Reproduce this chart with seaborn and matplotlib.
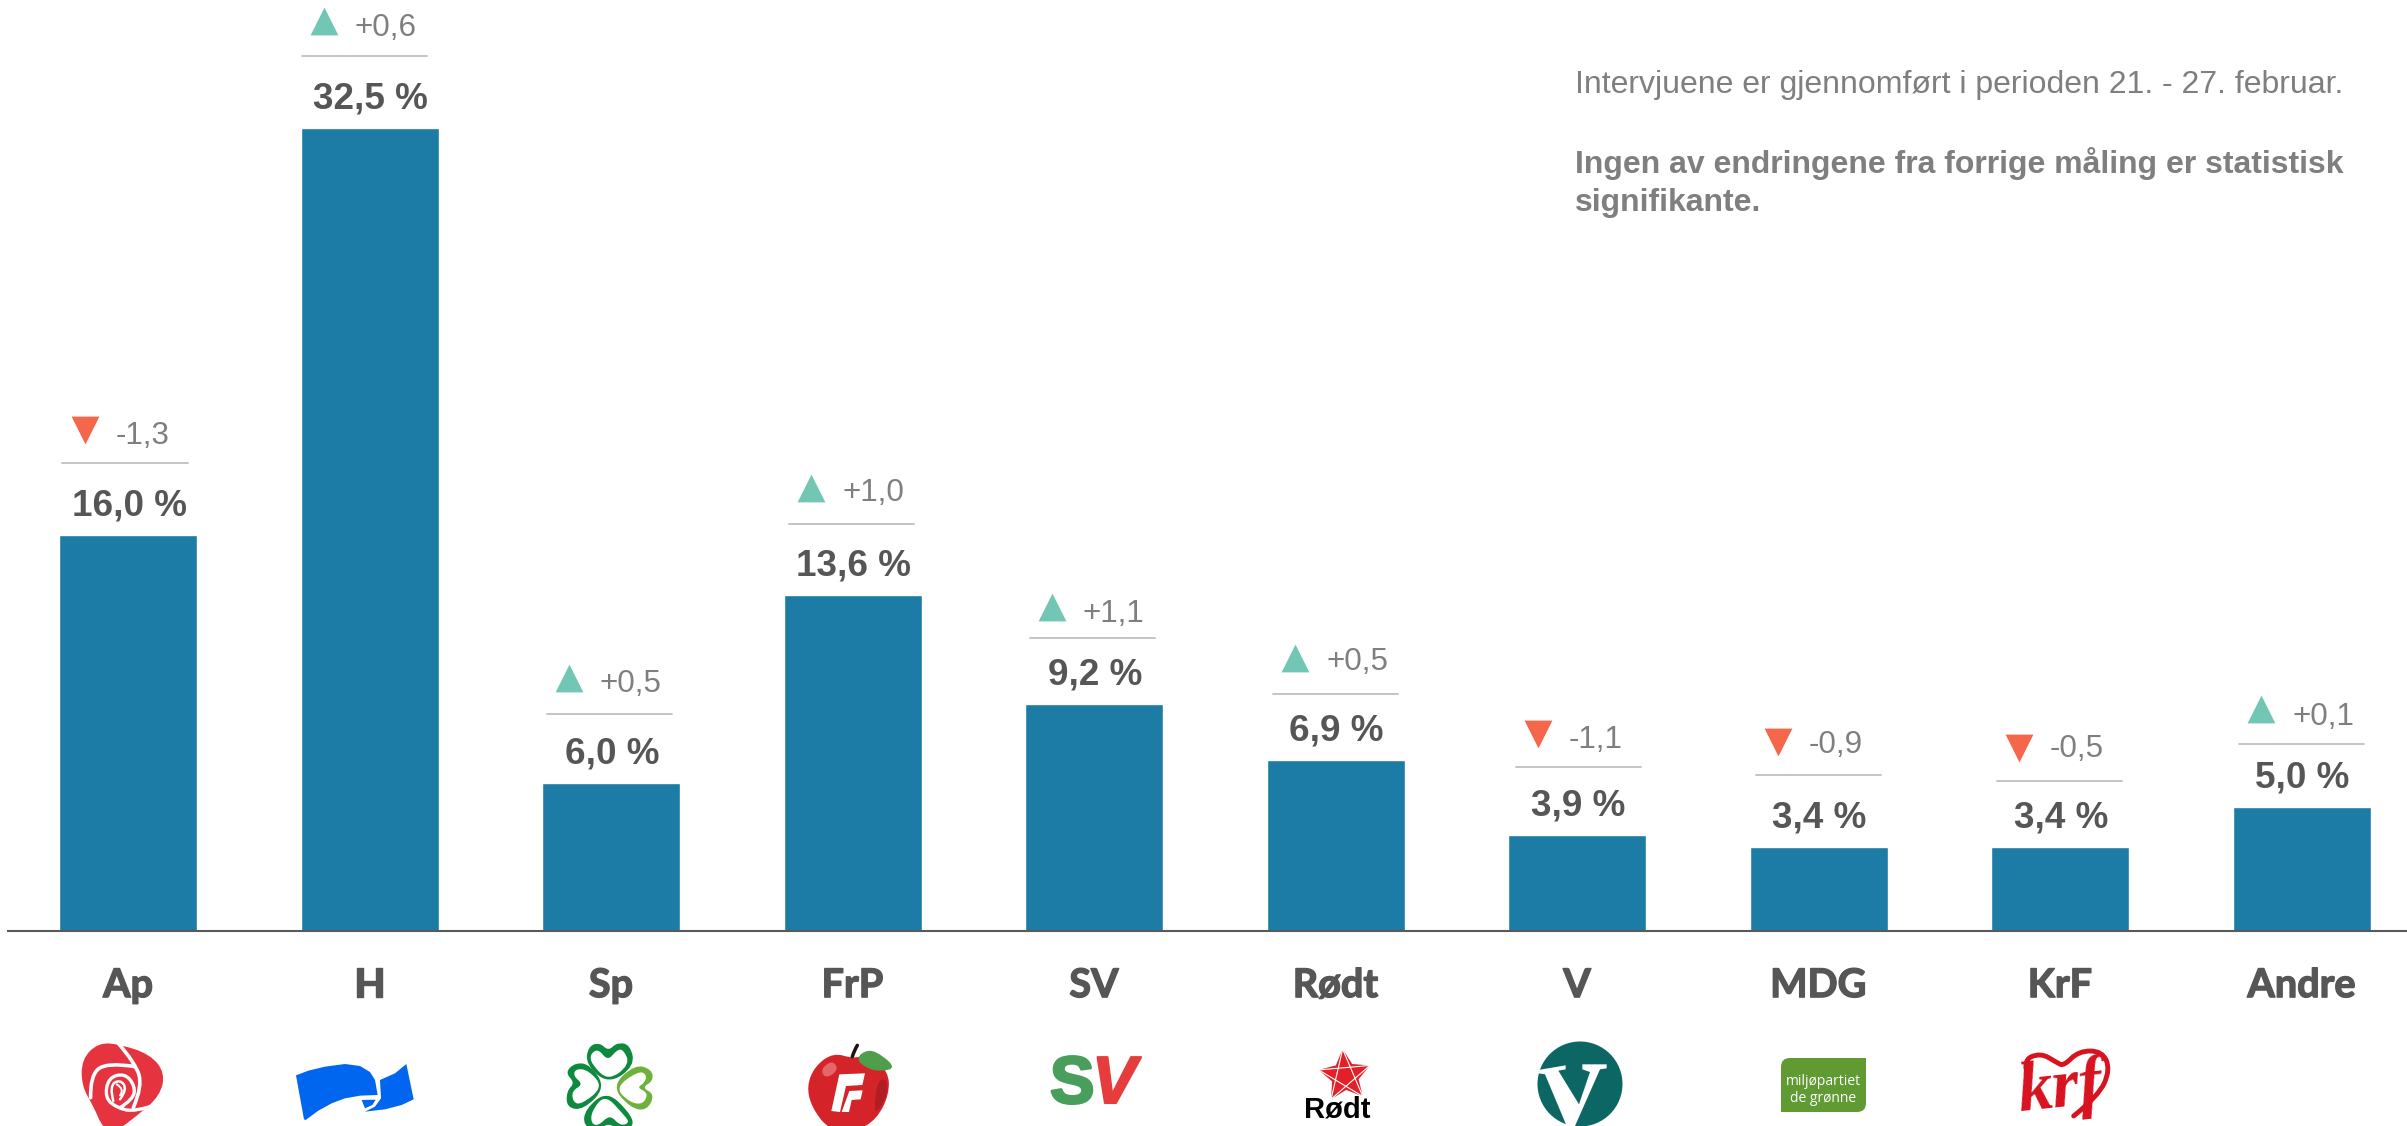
#!/bin/python3

import matplotlib
matplotlib.use('Agg')
import matplotlib.pyplot as plt
import matplotlib.patheffects as pe
from matplotlib.path import Path
from matplotlib.patches import PathPatch, Circle, FancyBboxPatch
import numpy as np
import seaborn as sns

parties = ['Ap', 'H', 'Sp', 'FrP', 'SV', 'Rødt', 'V', 'MDG', 'KrF', 'Andre']
values = [16.0, 32.5, 6.0, 13.6, 9.2, 6.9, 3.9, 3.4, 3.4, 5.0]
changes = [-1.3, 0.6, 0.5, 1.0, 1.1, 0.5, -1.1, -0.9, -0.5, 0.1]

# how far the little rule sits above each bar, and its sideways shift (px)
rule_lift = [72, 72, 69, 71, 66, 66, 68, 72, 66, 63]
rule_shift = [-3, -5, -2, -1, -2, 0, 1, 0, -1, 0]
# the change labels and arrows do not sit quite evenly over the rule (px, up)
text_nudge = [-1, 0, 2, 3, -4, 4, -1, 2, 4, -1]
tri_nudge = [1, 0, 1, 1, -4, 1, 1, 1, 1, 0]

W, H = 2407, 1126
BASE = 931
PX_UNIT = 24.72
STEP = 241.5
FIRST = 128
LEFT = 8

BLUE = '#1c7ca5'
DARK = '#565656'
GREY = '#7f7f7f'
UP = '#72c6b4'
DOWN = '#f4674a'


def fmt(v, sign=False):
    s = f'{v:+.1f}' if sign else f'{v:.1f}'
    return s.replace('.', ',')


sns.set_theme(style='white')
plt.rcParams['font.family'] = ['Liberation Sans', 'DejaVu Sans']

fig = plt.figure(figsize=(W / 100, H / 100), dpi=100)
ax = fig.add_axes([LEFT / W, (H - BASE) / H, (W - LEFT) / W, BASE / H])

sns.barplot(x=parties, y=values, color=BLUE, saturation=1, width=138 / STEP, ax=ax)
ax.set_xlim(-(FIRST - LEFT) / STEP, (W - FIRST) / STEP)
ax.set_ylim(0, BASE / PX_UNIT)
ax.set_yticks([])
ax.patch.set_alpha(0)
sns.despine(ax=ax, left=True)
ax.spines['bottom'].set_color('#595959')
ax.spines['bottom'].set_linewidth(1.5)
ax.tick_params(axis='x', length=0, pad=26)
for lab in ax.get_xticklabels():
    lab.set_fontfamily('Lato')
    lab.set_fontweight('bold')
    lab.set_fontsize(28.5)
    lab.set_color(DARK)
    lab.set_path_effects([pe.withStroke(linewidth=1.0, foreground=DARK)])

for i, (v, d) in enumerate(zip(values, changes)):
    ax.annotate(fmt(v) + ' %', (i, v), xytext=(1, 29), textcoords='offset pixels',
                ha='center', va='center', fontsize=26.6, fontweight='bold', color=DARK)
    mid = i + rule_shift[i] / STEP
    rule = v + rule_lift[i] / PX_UNIT
    ax.plot([mid - 62.5 / STEP, mid + 62.5 / STEP], [rule, rule], color='#bfbfbf', lw=1.3)
    tri = -40.5 / STEP + mid
    if d > 0:
        ax.scatter([tri], [rule + (35 + tri_nudge[i]) / PX_UNIT], marker='^', s=400, color=UP, linewidths=0)
    else:
        ax.scatter([tri], [rule + (32 + tri_nudge[i]) / PX_UNIT], marker='v', s=400, color=DOWN, linewidths=0)
    ax.annotate(fmt(d, sign=True), (mid, rule), xytext=(-9.5, 28 + text_nudge[i]), textcoords='offset pixels',
                ha='left', va='center', fontsize=22.6, color=GREY)

# overlay in picture pixels, for the note and the party logos
lg = fig.add_axes([0, 0, 1, 1])
lg.set_xlim(0, W)
lg.set_ylim(H, 0)
lg.axis('off')
lg.patch.set_alpha(0)

lg.text(1575, 85, 'Intervjuene er gjennomført i perioden 21. - 27. februar.',
        fontsize=23, color=GREY, va='center')
lg.text(1575, 163, 'Ingen av endringene fra forrige måling er statistisk',
        fontsize=23, color=GREY, va='center', fontweight='bold')
lg.text(1575, 203, 'signifikante.', fontsize=23, color=GREY, va='center', fontweight='bold')


def place(pts, org):
    pts = np.array(pts, dtype=float)
    return pts / 3 + np.array(org)


def blob(pts, org, color, z=3):
    p = place(pts, org)
    n = len(p)
    mids = (p + np.roll(p, -1, axis=0)) / 2
    verts = [mids[-1]]
    codes = [Path.MOVETO]
    for k in range(n):
        verts += [p[k], mids[k]]
        codes += [Path.CURVE3, Path.CURVE3]
    lg.add_patch(PathPatch(Path(verts, codes), fc=color, ec='none', zorder=z, clip_on=False))


def poly(pts, org, color, z=3):
    lg.fill(*place(pts, org).T, color=color, lw=0, zorder=z, clip_on=False)


def curve(pts, org, color, lw, z=4):
    p = place(pts, org)
    verts = [p[0]]
    codes = [Path.MOVETO]
    for k in range(1, len(p) - 1):
        end = p[k + 1] if k == len(p) - 2 else (p[k] + p[k + 1]) / 2
        verts += [p[k], end]
        codes += [Path.CURVE3, Path.CURVE3]
    lg.add_patch(PathPatch(Path(verts, codes), fc='none', ec=color, lw=lw, zorder=z,
                           capstyle='round', clip_on=False))


# Ap
o = (70, 1036)
blob([(85, 20), (150, 25), (240, 55), (285, 110), (270, 180), (200, 240), (140, 285), (100, 280),
      (70, 210), (35, 150), (35, 70)], o, '#e5333f')
curve([(145, 22), (195, 80), (218, 150), (190, 215)], o, 'white', 2.6)
curve([(62, 185), (60, 120), (110, 78), (195, 92)], o, 'white', 2.6)
curve([(262, 205), (195, 228), (140, 215), (105, 185), (115, 125), (165, 112), (195, 150), (190, 190), (150, 215)],
      o, 'white', 2.4)
curve([(130, 195), (118, 150), (150, 130), (172, 160), (150, 190)], o, 'white', 1.8)
curve([(140, 145), (165, 160), (150, 178)], o, 'white', 1.4)

# H
o = (285, 1050)
poly([(33, 76), (70, 62), (120, 50), (180, 42), (225, 48), (255, 66), (270, 90), (278, 135), (225, 137), (180, 145), (140, 160),
      (100, 182), (62, 210), (57, 208)], o, '#0066f0')
poly([(285, 90), (330, 70), (364, 42), (386, 148), (350, 165), (300, 178), (240, 185), (270, 170), (288, 145)],
     o, '#0066f0')
poly([(230, 150), (272, 149), (262, 165), (240, 175)], o, '#0066f0')

# Sp
o = (555, 1036)
G1 = '#0e8a3e'
G2 = '#6eb23c'
blob([(160, 145), (240, 90), (225, 25), (185, 20), (160, 45), (135, 20), (100, 30), (92, 85)], o, G1)
blob([(160, 135), (225, 85), (205, 40), (185, 42), (158, 75), (130, 38), (105, 55), (110, 85)], o, 'white', z=4)
blob([(152, 155), (105, 85), (60, 80), (30, 110), (60, 140), (35, 165), (35, 215), (85, 222)], o, G1, z=5)
blob([(145, 153), (100, 102), (62, 98), (55, 120), (85, 145), (50, 165), (55, 200), (80, 205)], o, 'white', z=6)
blob([(170, 150), (240, 85), (290, 100), (295, 135), (260, 155), (300, 175), (275, 225), (225, 215)], o, G2, z=5)
blob([(180, 155), (250, 105), (275, 115), (270, 140), (245, 155), (280, 170), (265, 205), (225, 200)], o, 'white', z=6)
blob([(155, 165), (90, 220), (85, 270), (130, 285), (160, 260), (195, 285), (240, 270), (220, 225)], o, G1, z=5)
blob([(150, 175), (110, 225), (108, 262), (130, 270), (165, 235), (195, 270), (225, 260), (205, 235)], o, 'white', z=6)

# FrP
o = (800, 1036)
blob([(45, 90), (100, 50), (160, 68), (205, 55), (265, 105), (268, 175), (230, 250), (170, 285), (90, 285), (35, 215), (20, 150)],
     o, '#d4242a')
blob([(70, 90), (100, 75), (115, 100), (85, 125), (65, 115)], o, '#e4676c', z=4)
blob([(235, 130), (262, 130), (262, 180), (225, 240), (225, 190)], o, '#b01d22', z=4)
curve([(157, 62), (162, 45), (172, 28)], o, '#1c1410', 2.5)
blob([(165, 68), (205, 38), (250, 60), (285, 95), (250, 106), (205, 100)], o, '#4f9e4c', z=5)
poly([(118, 115), (195, 112), (187, 147), (138, 150), (120, 228), (94, 225)], o, 'white', z=6)
poly([(148, 165), (188, 163), (182, 190), (155, 192), (147, 228), (125, 228)], o, 'white', z=6)

# SV
lg.text(1050, 1086, 'S', fontsize=48, fontweight='bold', color='#4a9e5c', va='center', ha='left', zorder=3,
        path_effects=[pe.withStroke(linewidth=2, foreground='#4a9e5c')])
lg.text(1092, 1086, 'V', fontsize=48, fontweight='bold', color='#e63c3c', va='center', ha='left', fontstyle='italic', zorder=3,
        path_effects=[pe.withStroke(linewidth=1.5, foreground='#e63c3c')])

# Rødt
ang = np.deg2rad(90 + 5 - np.arange(5) * 72)
tips = np.c_[1345 + 27 * np.cos(ang), 1076 - 27 * np.sin(ang)]
hub = np.deg2rad(90 + 5 - 36 - np.arange(5) * 72)
inner = np.c_[1345 + 14 * np.cos(hub), 1076 - 14 * np.sin(hub)]
star = np.empty((10, 2))
star[0::2] = tips
star[1::2] = inner
lg.fill(*star.T, color='#e32028', lw=0, zorder=3)
for a, b in [(0, 2), (2, 4), (4, 1), (1, 3), (3, 0)]:
    lg.plot(*np.c_[tips[a], tips[b]], color='white', lw=0.8, zorder=4)
lg.text(1337, 1110, 'Rødt', fontsize=21, fontweight='bold', color='black', ha='center', va='center', zorder=5)

# V
o = (1525, 1036)
lg.add_patch(Circle((1580, 1084), 42.5, fc='#0c6664', ec='none', zorder=3, clip_on=False))
poly([(40, 102), (122, 88), (122, 100), (100, 104), (162, 205), (195, 108), (172, 100), (172, 85), (245, 85), (245, 97),
      (225, 100), (150, 270), (125, 270), (60, 115), (40, 112)], o, 'white', z=4)

# MDG
lg.add_patch(FancyBboxPatch((1788, 1065), 71, 40, boxstyle='round,pad=7,rounding_size=9', fc='#5f9a32', ec='none', zorder=3))
lg.fill([1840, 1866, 1866, 1840], [1058, 1058, 1085, 1085], color='#5f9a32', lw=0, zorder=3)
lg.fill([1781, 1800, 1800, 1781], [1090, 1090, 1112, 1112], color='#5f9a32', lw=0, zorder=3)
lg.text(1823, 1090, 'miljøpartiet\nde grønne', fontsize=10, color='white', ha='center', va='center', zorder=4,
        linespacing=1.1, fontfamily='Open Sans')

# KrF
o = (2012, 1036)
curve([(50, 130), (30, 75), (85, 50), (135, 80), (155, 90), (200, 45), (270, 45), (295, 100), (260, 180), (185, 240)],
      o, '#d8121f', 3.5)
lg.text(2060, 1090, 'krf', fontsize=50, fontstyle='italic', fontweight='bold', fontfamily='Liberation Serif', color='#d8121f',
        ha='center', va='center', rotation=6, zorder=5)

fig.savefig('out.png', dpi=100)
